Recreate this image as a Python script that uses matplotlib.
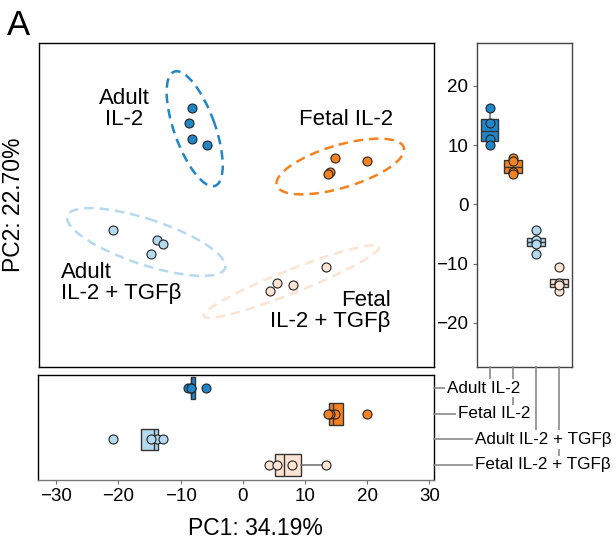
import numpy as np
import matplotlib.pyplot as plt
from matplotlib.patches import Ellipse
from matplotlib.lines import Line2D

plt.rcParams['font.family'] = ['Liberation Sans', 'DejaVu Sans']

groups = ["Adult IL-2", "Fetal IL-2", "Adult IL-2 + TGFβ", "Fetal IL-2 + TGFβ"]
colors = ["#1f87c8", "#f5821f", "#b5d9ef", "#fde3d1"]

# PC scores (4 samples per group)
pc1_adult = [-8.3, -8.75, -8.3, -5.9]
pc2_adult = [16.2, 13.8, 11.0, 10.1]
pc1_fetal = [14.85, 20.0, 14.0, 13.75]
pc2_fetal = [7.75, 7.35, 5.4, 5.1]
pc1_adult_tgfb = [-20.95, -13.85, -12.85, -14.8]
pc2_adult_tgfb = [-4.35, -6.05, -6.7, -8.3]
pc1_fetal_tgfb = [4.25, 5.45, 7.95, 13.35]
pc2_fetal_tgfb = [-14.65, -13.25, -13.65, -10.55]

pc1 = [pc1_adult, pc1_fetal, pc1_adult_tgfb, pc1_fetal_tgfb]
pc2 = [pc2_adult, pc2_fetal, pc2_adult_tgfb, pc2_fetal_tgfb]

W, H = 616, 542
fig = plt.figure(figsize=(W / 100, H / 100), dpi=100, facecolor='white')

def fx(px):
    return px / W

def fy(py):
    return 1 - py / H

ax_main = fig.add_axes([fx(39), fy(366.7), fx(434.3 - 39), (366.7 - 42.7) / H])
ax_right = fig.add_axes([fx(476.7), fy(366.7), fx(572.3 - 476.7), (366.7 - 42.7) / H])
ax_bot = fig.add_axes([fx(38.3), fy(480), fx(434.3 - 38.3), (480 - 375) / H])

xlim = (-32.9, 30.8)
ylim = (-27.4, 27.3)

# main scatter + ellipses
for i in range(4):
    x = np.array(pc1[i])
    y = np.array(pc2[i])
    cov = np.cov(x, y)
    vals, vecs = np.linalg.eigh(cov)
    order = vals.argsort()[::-1]
    vals, vecs = vals[order], vecs[:, order]
    ang = np.degrees(np.arctan2(vecs[1, 0], vecs[0, 0]))
    k = 3.5
    ell = Ellipse((x.mean(), y.mean()), 2 * k * np.sqrt(vals[0]), 2 * k * np.sqrt(vals[1]),
                  angle=ang, fill=False, edgecolor=colors[i], lw=1.8,
                  linestyle=(0, (3.8, 2.4)))
    ax_main.add_patch(ell)
    ax_main.scatter(x, y, s=42, c=colors[i], edgecolors='#222222', linewidths=0.8, zorder=3)

ax_main.set_xlim(*xlim)
ax_main.set_ylim(*ylim)
ax_main.set_xticks([])
ax_main.set_yticks([])
for s in ax_main.spines.values():
    s.set_linewidth(1.0)

tfs = 16
ax_main.text(-19.2, 16.1, "Adult\nIL-2", fontsize=tfs, ha='center', va='center', linespacing=1.0)
ax_main.text(16.6, 14.4, "Fetal IL-2", fontsize=tfs, ha='center', va='center')
ax_main.text(-29.4, -13.2, "Adult\nIL-2 + TGFβ", fontsize=tfs, ha='left', va='center', linespacing=1.0)
ax_main.text(23.8, -18.0, "Fetal\nIL-2 + TGFβ", fontsize=tfs, ha='right', va='center',
             multialignment='right', linespacing=1.0)

box_kw = dict(patch_artist=True, showfliers=False, showcaps=False, whis=1.5,
              medianprops=dict(color='#333333', lw=1.0),
              whiskerprops=dict(color='#777777', lw=1.2),
              boxprops=dict(edgecolor='#333333', lw=1.0))

# right panel: PC2 boxes
bp = ax_right.boxplot(pc2, positions=range(4), widths=0.75, **box_kw)
for patch, c in zip(bp['boxes'], colors):
    patch.set_facecolor(c)
for i in range(4):
    ax_right.scatter([i] * len(pc2[i]), pc2[i], s=42, c=colors[i], edgecolors='#222222',
                     linewidths=0.8, zorder=3)
ax_right.set_xlim(-0.57, 3.58)
ax_right.set_ylim(*ylim)
ax_right.set_xticks([])
ax_right.set_yticks([-20, -10, 0, 10, 20])
ax_right.tick_params(axis='y', labelsize=13.5, length=3, width=0.8, color='#666666', pad=3)
for s in ax_right.spines.values():
    s.set_color('#444444')
    s.set_linewidth(1.0)

# bottom panel: PC1 boxes
bp = ax_bot.boxplot(pc1, positions=range(4), widths=0.85, vert=False, **box_kw)
for patch, c in zip(bp['boxes'], colors):
    patch.set_facecolor(c)
for i in range(4):
    ax_bot.scatter(pc1[i], [i] * len(pc1[i]), s=42, c=colors[i], edgecolors='#222222',
                   linewidths=0.8, zorder=3)
ax_bot.set_xlim(*xlim)
ax_bot.set_ylim(3.59, -0.52)
ax_bot.set_yticks([])
ax_bot.set_xticks([-30, -20, -10, 0, 10, 20, 30])
ax_bot.tick_params(axis='x', labelsize=13.5, length=3, width=0.8, color='#777777', pad=3)
for s in ax_bot.spines.values():
    s.set_linewidth(1.0)
ax_bot.spines['bottom'].set_color('#777777')

# connectors between group labels and the two box panels
label_px = [447, 458, 475, 475]
inv = fig.transFigure.inverted()
bot_right = ax_bot.get_position().x1
right_bottom = ax_right.get_position().y0
for i, g in enumerate(groups):
    row_y = inv.transform(ax_bot.transData.transform((0, i)))[1]
    col_x = inv.transform(ax_right.transData.transform((i, 0)))[0]
    fig.add_artist(Line2D([col_x, col_x], [right_bottom, row_y], color='#8a8a8a', lw=1.2, zorder=1))
    fig.add_artist(Line2D([bot_right, fx(label_px[i])], [row_y, row_y], color='#8a8a8a', lw=1.2, zorder=1))
    fig.text(fx(label_px[i]), row_y, g, fontsize=12.3, ha='left', va='center', zorder=5,
             bbox=dict(boxstyle='square,pad=0.1', fc='white', ec='none'))

fig.text(fx(14), fy(204.7), "PC2: 22.70%", fontsize=16.5, rotation=90, ha='center', va='center')
fig.text(fx(255), fy(535), "PC1: 34.19%", fontsize=16.5, ha='center', va='baseline')
fig.text(fx(7), fy(35), "A", fontsize=25, ha='left', va='baseline')

fig.savefig('out.png', dpi=100, facecolor='white')
